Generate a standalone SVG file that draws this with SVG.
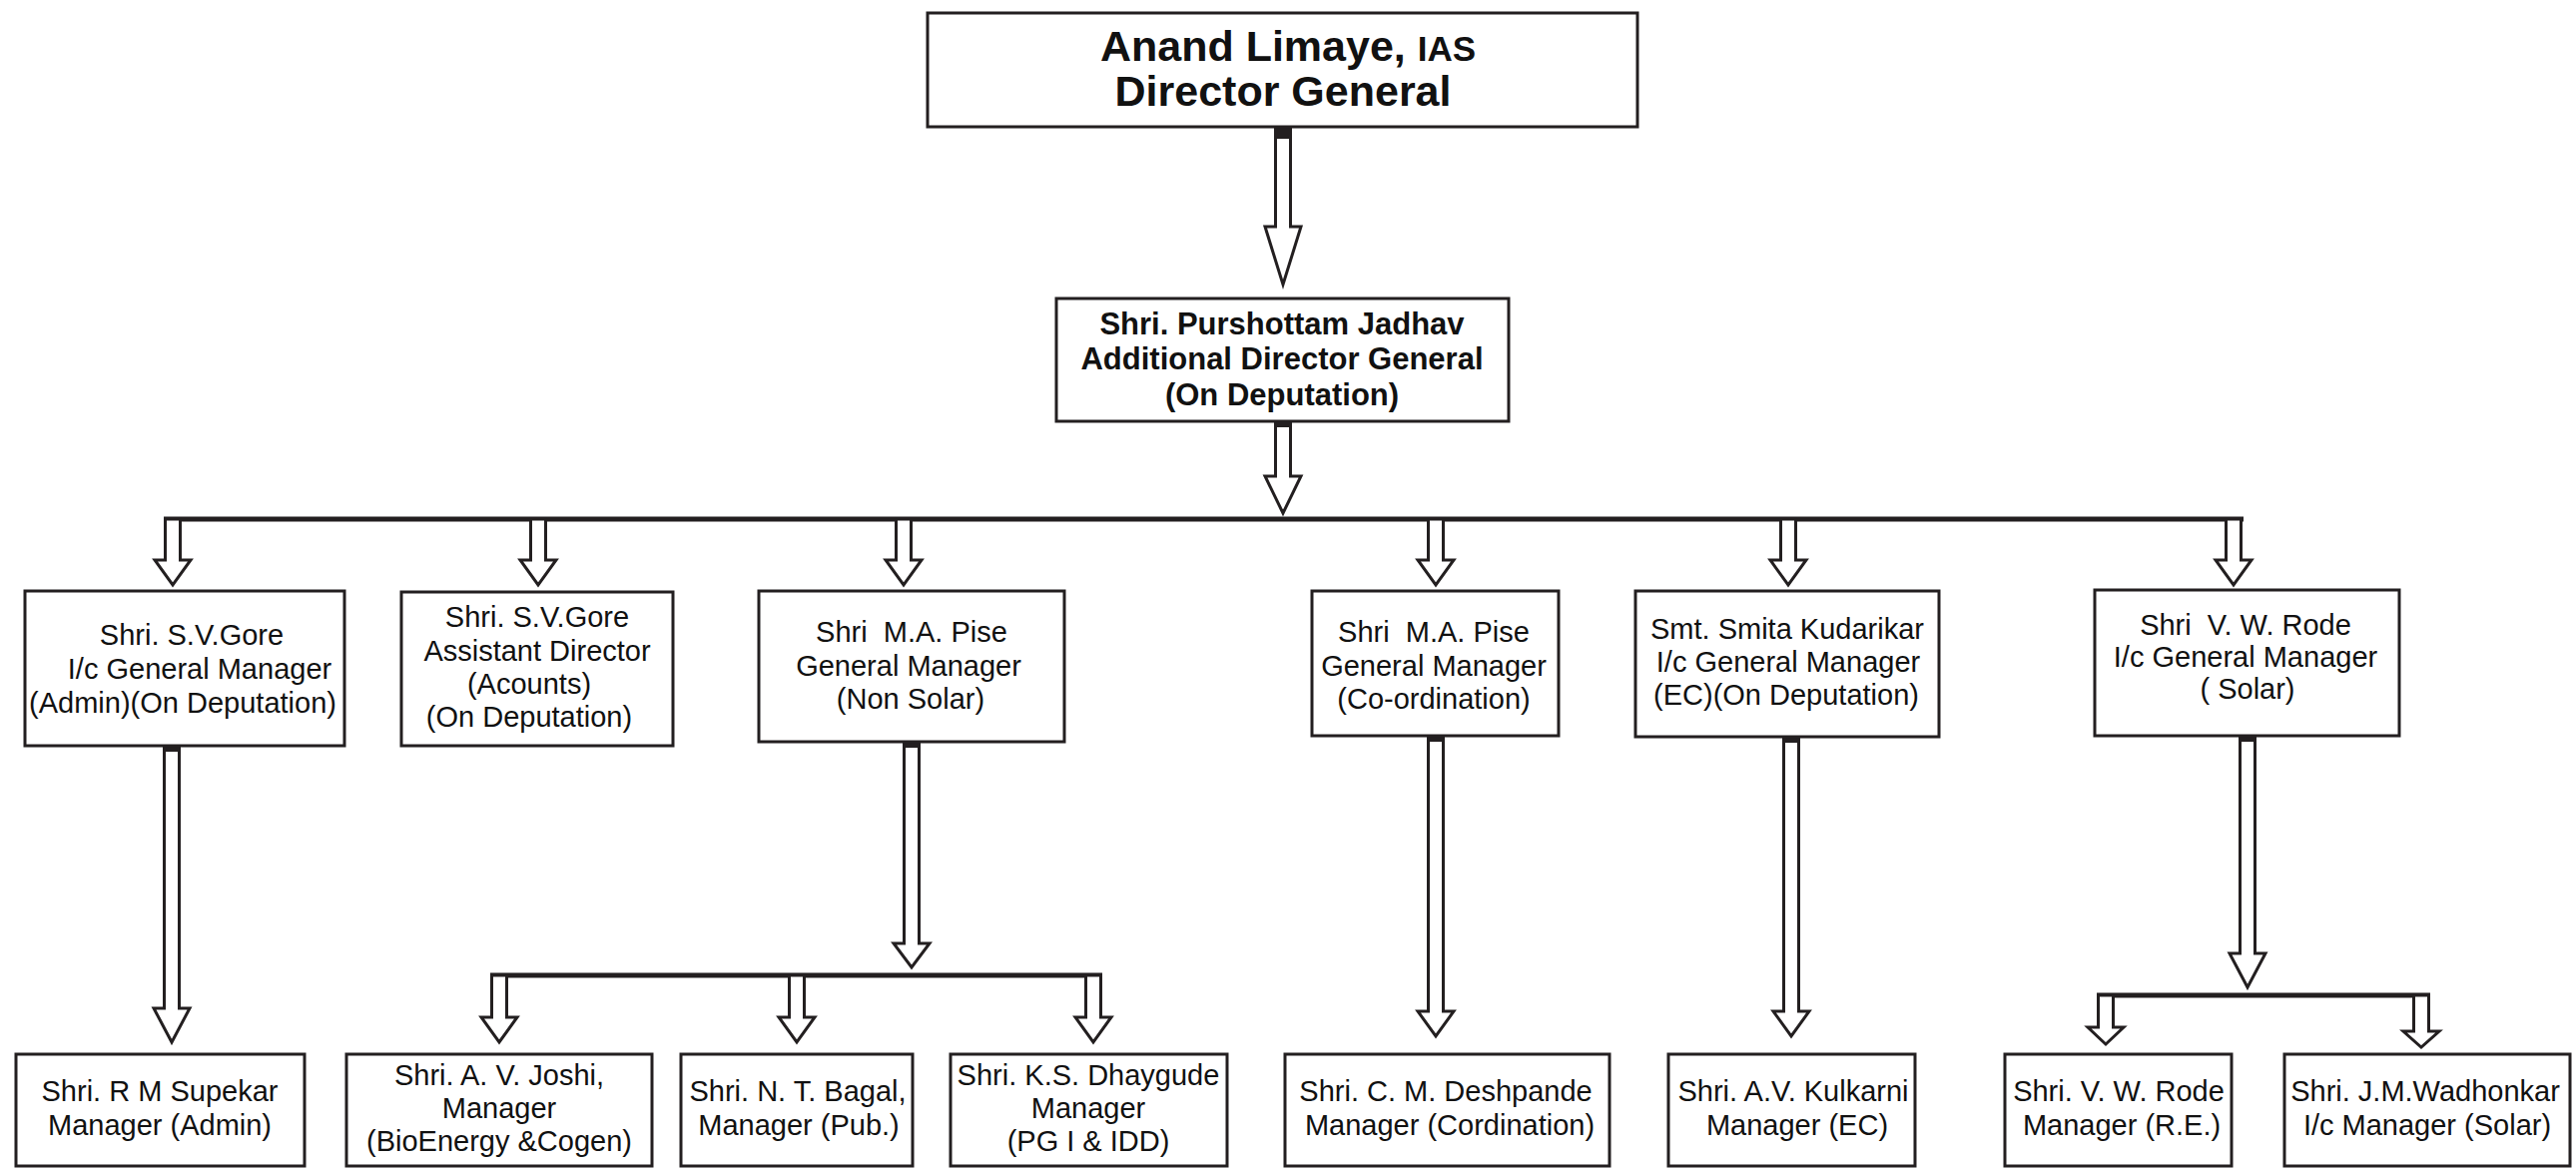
<svg xmlns="http://www.w3.org/2000/svg" width="2580" height="1170" viewBox="0 0 2580 1170">
<style>
.box{fill:#fff;stroke:#231f20;stroke-width:3}
.arr{fill:#fff;stroke:#231f20;stroke-width:3;stroke-linejoin:miter;stroke-miterlimit:6}
.bus{stroke:#231f20;stroke-width:5;fill:none}
.cap{fill:#231f20}
text{font-family:"Liberation Sans",Arial,sans-serif;fill:#111;text-anchor:middle;white-space:pre}
.t{font-size:43px;font-weight:bold}
.b{font-size:31px;font-weight:bold}
.r{font-size:29px}
</style>
<rect width="2580" height="1170" fill="#fff"/>
<g id="connectors">
<path class="arr" d="M1277.5 129V227H1267L1285 285L1303 227H1292.5V129Z"/>
<rect class="cap" x="1276" y="128" width="18" height="11"/>
<path class="arr" d="M1277.5 422V477H1267L1285 514L1303 477H1292.5V422Z"/>
<rect class="cap" x="1276" y="421" width="18" height="7"/>
<line class="bus" x1="164" y1="520" x2="2247" y2="520"/>
<path class="arr" d="M165.5 520V561H155L173 586L191 561H180.5V520Z"/>
<path class="arr" d="M531.5 520V561H521L539 586L557 561H546.5V520Z"/>
<path class="arr" d="M897.5 520V561H887L905 586L923 561H912.5V520Z"/>
<path class="arr" d="M1430.5 520V561H1420L1438 586L1456 561H1445.5V520Z"/>
<path class="arr" d="M1783.5 520V561H1773L1791 586L1809 561H1798.5V520Z"/>
<path class="arr" d="M2229.5 520V561H2219L2237 586L2255 561H2244.5V520Z"/>
<path class="arr" d="M164.5 747V1010H154L172 1044L190 1010H179.5V747Z"/>
<rect class="cap" x="163" y="746" width="18" height="7"/>
<path class="arr" d="M905.5 743V945H895L913 969L931 945H920.5V743Z"/>
<rect class="cap" x="904" y="742" width="18" height="7"/>
<line class="bus" x1="491" y1="977" x2="1104" y2="977"/>
<path class="arr" d="M492.5 977V1019H482L500 1044L518 1019H507.5V977Z"/>
<path class="arr" d="M790.5 977V1019H780L798 1044L816 1019H805.5V977Z"/>
<path class="arr" d="M1087.5 977V1019H1077L1095 1044L1113 1019H1102.5V977Z"/>
<path class="arr" d="M1430.5 737V1013H1420L1438 1038L1456 1013H1445.5V737Z"/>
<rect class="cap" x="1429" y="736" width="18" height="7"/>
<path class="arr" d="M1786.5 738V1013H1776L1794 1038L1812 1013H1801.5V738Z"/>
<rect class="cap" x="1785" y="737" width="18" height="7"/>
<path class="arr" d="M2243.5 737V955H2233L2251 989L2269 955H2258.5V737Z"/>
<rect class="cap" x="2242" y="736" width="18" height="7"/>
<line class="bus" x1="2100" y1="997" x2="2434" y2="997"/>
<path class="arr" d="M2101.5 997V1029H2091L2109 1046L2127 1029H2116.5V997Z"/>
<path class="arr" d="M2417.5 997V1033H2407L2425 1049L2443 1033H2432.5V997Z"/>
</g>
<g id="dg">
<rect class="box" x="929" y="13" width="711" height="114"/>
<text class="t" x="1290" y="61">Anand Limaye, <tspan font-size="35">IAS</tspan></text>
<text class="t" x="1285" y="106">Director General</text>
</g>
<g id="adg">
<rect class="box" x="1058" y="299" width="453" height="123"/>
<text class="b" x="1284" y="335">Shri. Purshottam Jadhav</text>
<text class="b" x="1284" y="370">Additional Director General</text>
<text class="b" x="1284" y="406">(On Deputation)</text>
</g>
<g id="gm-admin">
<rect class="box" x="25" y="592" width="320" height="155"/>
<text class="r" x="192" y="646">Shri. S.V.Gore</text>
<text class="r" x="200" y="680">I/c General Manager</text>
<text class="r" x="183" y="714">(Admin)(On Deputation)</text>
</g>
<g id="ad-accounts">
<rect class="box" x="402" y="593" width="272" height="154"/>
<text class="r" x="538" y="628">Shri. S.V.Gore</text>
<text class="r" x="538" y="662">Assistant Director</text>
<text class="r" x="530" y="695">(Acounts)</text>
<text class="r" x="530" y="728">(On Deputation)</text>
</g>
<g id="gm-nonsolar">
<rect class="box" x="760" y="592" width="306" height="151"/>
<text class="r" x="913" y="643">Shri  M.A. Pise</text>
<text class="r" x="910" y="677">General Manager</text>
<text class="r" x="912" y="710">(Non Solar)</text>
</g>
<g id="gm-coord">
<rect class="box" x="1314" y="592" width="247" height="145"/>
<text class="r" x="1436" y="643">Shri  M.A. Pise</text>
<text class="r" x="1436" y="677">General Manager</text>
<text class="r" x="1436" y="710">(Co-ordination)</text>
</g>
<g id="gm-ec">
<rect class="box" x="1638" y="592" width="304" height="146"/>
<text class="r" x="1790" y="640">Smt. Smita Kudarikar</text>
<text class="r" x="1791" y="673">I/c General Manager</text>
<text class="r" x="1789" y="706">(EC)(On Deputation)</text>
</g>
<g id="gm-solar">
<rect class="box" x="2098" y="591" width="305" height="146"/>
<text class="r" x="2249" y="636">Shri  V. W. Rode</text>
<text class="r" x="2249" y="668">I/c General Manager</text>
<text class="r" x="2251" y="700">( Solar)</text>
</g>
<g id="m-admin">
<rect class="box" x="16" y="1056" width="289" height="112"/>
<text class="r" x="160" y="1103">Shri. R M Supekar</text>
<text class="r" x="160" y="1137">Manager (Admin)</text>
</g>
<g id="m-bio">
<rect class="box" x="347" y="1056" width="306" height="112"/>
<text class="r" x="500" y="1087">Shri. A. V. Joshi,</text>
<text class="r" x="500" y="1120">Manager</text>
<text class="r" x="500" y="1153">(BioEnergy &amp;Cogen)</text>
</g>
<g id="m-pub">
<rect class="box" x="682" y="1056" width="232" height="112"/>
<text class="r" x="799" y="1103">Shri. N. T. Bagal,</text>
<text class="r" x="800" y="1137">Manager (Pub.)</text>
</g>
<g id="m-pg">
<rect class="box" x="952" y="1056" width="277" height="112"/>
<text class="r" x="1090" y="1087">Shri. K.S. Dhaygude</text>
<text class="r" x="1090" y="1120">Manager</text>
<text class="r" x="1090" y="1153">(PG I &amp; IDD)</text>
</g>
<g id="m-coord">
<rect class="box" x="1287" y="1056" width="325" height="112"/>
<text class="r" x="1448" y="1103">Shri. C. M. Deshpande</text>
<text class="r" x="1452" y="1137">Manager (Cordination)</text>
</g>
<g id="m-ec">
<rect class="box" x="1671" y="1056" width="247" height="112"/>
<text class="r" x="1796" y="1103">Shri. A.V. Kulkarni</text>
<text class="r" x="1800" y="1137">Manager (EC)</text>
</g>
<g id="m-re">
<rect class="box" x="2008" y="1056" width="227" height="112"/>
<text class="r" x="2122" y="1103">Shri. V. W. Rode</text>
<text class="r" x="2125" y="1137">Manager (R.E.)</text>
</g>
<g id="m-solar">
<rect class="box" x="2288" y="1056" width="286" height="112"/>
<text class="r" x="2429" y="1103">Shri. J.M.Wadhonkar</text>
<text class="r" x="2431" y="1137">I/c Manager (Solar)</text>
</g>
</svg>
